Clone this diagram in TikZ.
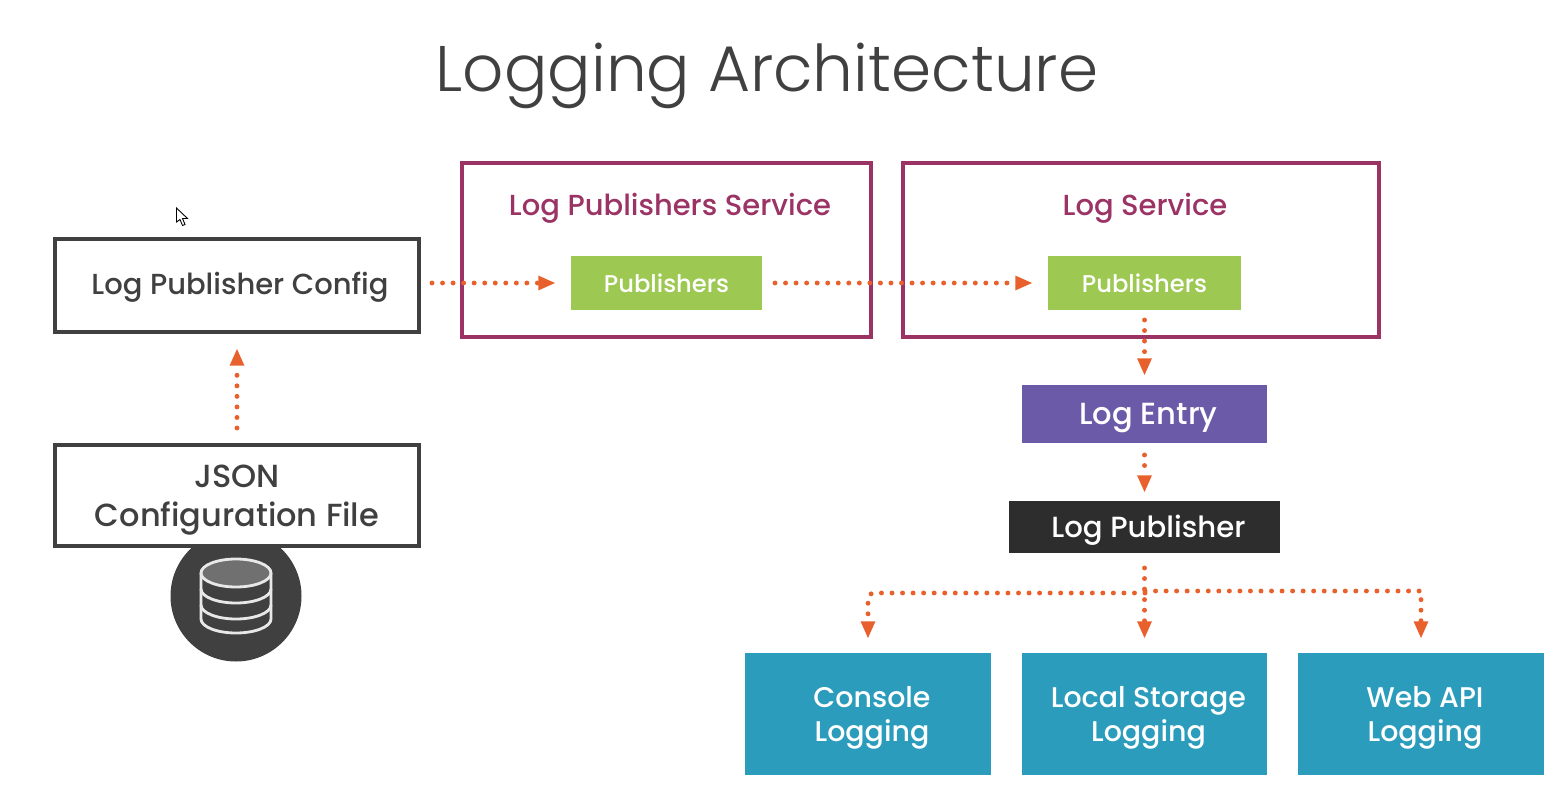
\documentclass[tikz,border=0pt]{standalone}
\usepackage{fontspec}
\setmainfont{Poppins Medium}
\newfontfamily\titlefont{Poppins Light}
\usetikzlibrary{arrows.meta}

\definecolor{plum}{HTML}{9B3365}
\definecolor{flowc}{HTML}{E8602C}
\definecolor{leaf}{HTML}{9DC852}
\definecolor{violet}{HTML}{6A5AA8}
\definecolor{ink}{HTML}{2D2D2D}
\definecolor{teal}{HTML}{2C9CBC}
\definecolor{slate}{HTML}{404040}

\newcommand{\fs}[2]{\fontsize{#1}{#2}\selectfont}
\newcommand{\rt}{\hspace*{4.5pt}}

\begin{document}
\begin{tikzpicture}[x=0.02cm,y=-0.02cm,
    every node/.style={align=center,inner sep=0pt,outer sep=0pt,text depth=0pt,font=\fs{16.5}{22}},
    plain/.style={draw=slate,fill=white,line width=2.2pt,text=slate},
    group/.style={draw=plum,line width=2.8pt},
    grouptext/.style={text=plum},
    solid/.style={fill=#1,text=white},
    flow/.style={draw=flowc,line width=2.8pt,line cap=round,dash pattern=on 0pt off 6pt,
      -{Triangle[length=9.5pt,width=8.5pt,fill=flowc,line width=0pt,sep=0pt]}}]
    \useasboundingbox (0,0) rectangle (1567,807);

    \node[text=slate,font=\titlefont\fs{36.7}{40}] (heading) at (767,67) {Logging Architecture};

    \node[fill=slate,circle,minimum size=131*0.02cm] (disk) at (236,596) {};
    \node[plain,minimum width=364*0.02cm,minimum height=101*0.02cm,font=\fs{18.2}{22}] (json) at (237,495.5) {JSON\\Configuration File};
    \node[plain,minimum width=364*0.02cm,minimum height=93*0.02cm,text depth=2.2pt] (config) at (237,285.5) {\hspace*{3.4pt}Log Publisher Config};

    \node[group,minimum width=409*0.02cm,minimum height=174*0.02cm] (pubsvc) at (666.5,250) {};
    \node[group,minimum width=476*0.02cm,minimum height=174*0.02cm] (logsvc) at (1141,250) {};
    \node[grouptext] (pubsvctext) at (670,204) {Log Publishers Service};
    \node[grouptext] (logsvctext) at (1145,204) {Log Service};

    \node[solid=leaf,minimum width=191*0.02cm,minimum height=54*0.02cm,font=\fs{13.8}{18}] (pub1) at (666.5,283) {Publishers};
    \node[solid=leaf,minimum width=193*0.02cm,minimum height=54*0.02cm,font=\fs{13.8}{18}] (pub2) at (1144.5,283) {Publishers};

    \node[solid=violet,minimum width=245*0.02cm,minimum height=58*0.02cm,font=\fs{17.4}{22}] (entry) at (1144.5,414) {\rt Log Entry};
    \node[solid=ink,minimum width=271*0.02cm,minimum height=52*0.02cm,font=\fs{16.6}{22},text depth=1pt] (logpub) at (1144.5,527) {\rt Log Publisher};

    \node[solid=teal,minimum width=246*0.02cm,minimum height=122*0.02cm,font=\fs{16.2}{19.8}] (console) at (868,714) {\rt Console\\\rt Logging};
    \node[solid=teal,minimum width=245*0.02cm,minimum height=122*0.02cm,font=\fs{16.2}{19.8}] (storage) at (1144.5,714) {\rt Local Storage\\\rt Logging};
    \node[solid=teal,minimum width=246*0.02cm,minimum height=122*0.02cm,font=\fs{16.2}{19.8}] (webapi) at (1421,714) {\rt Web API\\\rt Logging};

    \coordinate (branchl) at (1145,593);
    \coordinate (branchr) at (1145,591);

    \draw[flow,shorten <=0.34cm,shorten >=0.34cm] (json.north) -- (config.south);
    \draw[flow,shorten <=0.26cm,shorten >=0.32cm] (config.east |- pub1.west) -- (pub1.west);
    \draw[flow,shorten <=0.26cm,shorten >=0.32cm] (pub1.east) -- (pub2.west);
    \draw[flow,shorten <=0.2cm,shorten >=0.2cm] (pub2.south) -- (entry.north);
    \draw[flow,shorten <=0.24cm,shorten >=0.18cm] (entry.south) -- (logpub.north);
    \draw[flow,shorten <=0.3cm,shorten >=0.3cm] (logpub.south) -- (storage.north);
    \draw[flow,rounded corners=0.12cm,shorten >=0.3cm] (branchl) -| (console.north);
    \draw[flow,shorten >=0.3cm] (branchr) -| (webapi.north);

    % disk icon
    \begin{scope}[draw=white!88!slate,line width=1.6pt]
      \draw (201,573) -- (201,619) arc[start angle=180,end angle=0,x radius=35,y radius=14] -- (271,573);
      \draw (201,589) arc[start angle=180,end angle=0,x radius=35,y radius=14];
      \draw (201,605) arc[start angle=180,end angle=0,x radius=35,y radius=14];
      \draw[fill=gray!75!slate] (236,573) ellipse[x radius=35,y radius=14];
    \end{scope}

    % cursor
    \draw[fill=white,line width=0.5pt] (176.5,208) -- (176.5,222) -- (180,219.5) -- (182.5,225.5) -- (185,224.5) -- (182.5,218.5) -- (187.5,218.5) -- cycle;
\end{tikzpicture}
\end{document}
